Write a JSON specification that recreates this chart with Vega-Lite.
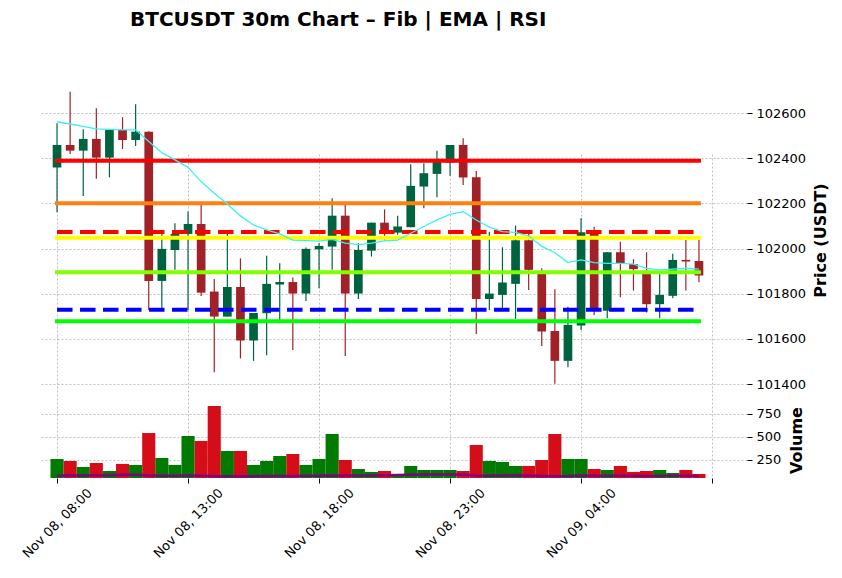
{
  "$schema": "https://vega.github.io/schema/vega-lite/v6.json",
  "autosize": "none",
  "width": 707,
  "height": 403,
  "padding": {"left": 40, "top": 75, "right": 95, "bottom": 100},
  "background": "white",
  "title": {"text": "BTCUSDT 30m Chart – Fib | EMA | RSI", "anchor": "start", "frame": "group", "dx": 90, "offset": 45, "font": "DejaVu Sans", "fontSize": 20, "fontWeight": "bold", "color": "black"},
  "config": {
    "view": {"stroke": null},
    "font": "DejaVu Sans",
    "scale": {"continuousPadding": 0},
    "axis": {"labelFont": "DejaVu Sans", "titleFont": "DejaVu Sans", "labelColor": "#000", "titleColor": "#000", "tickColor": "#000", "domain": false, "gridColor": "#b0b0b0", "gridDash": [2, 2], "gridWidth": 0.8, "tickSize": 5, "tickWidth": 1, "labelFontSize": 13}
  },
  "datasets": {
    "candles": [
      {"t": "2025-11-08T08:00", "o": 102359, "h": 102555, "l": 102161, "c": 102459, "v": 261, "ema": 102562, "rsi": 78},
      {"t": "2025-11-08T08:30", "o": 102459, "h": 102695, "l": 102419, "c": 102434, "v": 239, "ema": 102552, "rsi": 80},
      {"t": "2025-11-08T09:00", "o": 102434, "h": 102529, "l": 102233, "c": 102486, "v": 174, "ema": 102541, "rsi": 82},
      {"t": "2025-11-08T09:30", "o": 102486, "h": 102622, "l": 102309, "c": 102403, "v": 217, "ema": 102530, "rsi": 83},
      {"t": "2025-11-08T10:00", "o": 102403, "h": 102528, "l": 102316, "c": 102526, "v": 130, "ema": 102528, "rsi": 84},
      {"t": "2025-11-08T10:30", "o": 102526, "h": 102582, "l": 102441, "c": 102481, "v": 207, "ema": 102526, "rsi": 88},
      {"t": "2025-11-08T11:00", "o": 102481, "h": 102639, "l": 102455, "c": 102518, "v": 196, "ema": 102526, "rsi": 90},
      {"t": "2025-11-08T11:30", "o": 102518, "h": 102520, "l": 101728, "c": 101857, "v": 543, "ema": 102474, "rsi": 80},
      {"t": "2025-11-08T12:00", "o": 101857, "h": 102065, "l": 101728, "c": 101999, "v": 272, "ema": 102425, "rsi": 78},
      {"t": "2025-11-08T12:30", "o": 101994, "h": 102112, "l": 101906, "c": 102065, "v": 196, "ema": 102393, "rsi": 79},
      {"t": "2025-11-08T13:00", "o": 102065, "h": 102164, "l": 101728, "c": 102109, "v": 511, "ema": 102360, "rsi": 80},
      {"t": "2025-11-08T13:30", "o": 102109, "h": 102193, "l": 101790, "c": 101805, "v": 457, "ema": 102297, "rsi": 78},
      {"t": "2025-11-08T14:00", "o": 101810, "h": 101866, "l": 101452, "c": 101699, "v": 837, "ema": 102245, "rsi": 74},
      {"t": "2025-11-08T14:30", "o": 101699, "h": 102065, "l": 101699, "c": 101830, "v": 348, "ema": 102198, "rsi": 74},
      {"t": "2025-11-08T15:00", "o": 101830, "h": 101957, "l": 101514, "c": 101593, "v": 348, "ema": 102145, "rsi": 73},
      {"t": "2025-11-08T15:30", "o": 101593, "h": 101715, "l": 101503, "c": 101715, "v": 196, "ema": 102105, "rsi": 74},
      {"t": "2025-11-08T16:00", "o": 101714, "h": 101968, "l": 101528, "c": 101844, "v": 239, "ema": 102083, "rsi": 76},
      {"t": "2025-11-08T16:30", "o": 101841, "h": 101935, "l": 101669, "c": 101852, "v": 293, "ema": 102065, "rsi": 77},
      {"t": "2025-11-08T17:00", "o": 101852, "h": 101872, "l": 101551, "c": 101801, "v": 315, "ema": 102038, "rsi": 76},
      {"t": "2025-11-08T17:30", "o": 101801, "h": 102005, "l": 101768, "c": 101999, "v": 196, "ema": 102035, "rsi": 78},
      {"t": "2025-11-08T18:00", "o": 101997, "h": 102024, "l": 101824, "c": 102012, "v": 261, "ema": 102033, "rsi": 79},
      {"t": "2025-11-08T18:30", "o": 102009, "h": 102223, "l": 101906, "c": 102146, "v": 533, "ema": 102041, "rsi": 82},
      {"t": "2025-11-08T19:00", "o": 102146, "h": 102193, "l": 101525, "c": 101801, "v": 250, "ema": 102024, "rsi": 78},
      {"t": "2025-11-08T19:30", "o": 101801, "h": 102024, "l": 101777, "c": 101994, "v": 152, "ema": 102018, "rsi": 80},
      {"t": "2025-11-08T20:00", "o": 101991, "h": 102115, "l": 101965, "c": 102115, "v": 120, "ema": 102024, "rsi": 82},
      {"t": "2025-11-08T20:30", "o": 102115, "h": 102174, "l": 102036, "c": 102071, "v": 130, "ema": 102034, "rsi": 83},
      {"t": "2025-11-08T21:00", "o": 102071, "h": 102146, "l": 102061, "c": 102098, "v": 85, "ema": 102038, "rsi": 86},
      {"t": "2025-11-08T21:30", "o": 102095, "h": 102374, "l": 102095, "c": 102278, "v": 185, "ema": 102068, "rsi": 90},
      {"t": "2025-11-08T22:00", "o": 102275, "h": 102378, "l": 102179, "c": 102334, "v": 141, "ema": 102098, "rsi": 92},
      {"t": "2025-11-08T22:30", "o": 102331, "h": 102433, "l": 102227, "c": 102385, "v": 141, "ema": 102127, "rsi": 92},
      {"t": "2025-11-08T23:00", "o": 102381, "h": 102459, "l": 102323, "c": 102459, "v": 141, "ema": 102152, "rsi": 93},
      {"t": "2025-11-08T23:30", "o": 102459, "h": 102489, "l": 102282, "c": 102315, "v": 130, "ema": 102164, "rsi": 90},
      {"t": "2025-11-09T00:00", "o": 102316, "h": 102344, "l": 101622, "c": 101777, "v": 413, "ema": 102127, "rsi": 80},
      {"t": "2025-11-09T00:30", "o": 101777, "h": 102075, "l": 101728, "c": 101801, "v": 239, "ema": 102095, "rsi": 79},
      {"t": "2025-11-09T01:00", "o": 101795, "h": 102006, "l": 101728, "c": 101850, "v": 228, "ema": 102075, "rsi": 80},
      {"t": "2025-11-09T01:30", "o": 101844, "h": 102102, "l": 101689, "c": 102037, "v": 185, "ema": 102072, "rsi": 82},
      {"t": "2025-11-09T02:00", "o": 102037, "h": 102068, "l": 101817, "c": 101906, "v": 185, "ema": 102056, "rsi": 80},
      {"t": "2025-11-09T02:30", "o": 101898, "h": 101913, "l": 101569, "c": 101633, "v": 250, "ema": 102010, "rsi": 76},
      {"t": "2025-11-09T03:00", "o": 101635, "h": 101820, "l": 101401, "c": 101503, "v": 533, "ema": 101982, "rsi": 74},
      {"t": "2025-11-09T03:30", "o": 101503, "h": 101743, "l": 101475, "c": 101662, "v": 261, "ema": 101938, "rsi": 75},
      {"t": "2025-11-09T04:00", "o": 101659, "h": 102134, "l": 101640, "c": 102072, "v": 261, "ema": 101950, "rsi": 80},
      {"t": "2025-11-09T04:30", "o": 102080, "h": 102097, "l": 101706, "c": 101728, "v": 152, "ema": 101938, "rsi": 78},
      {"t": "2025-11-09T05:00", "o": 101725, "h": 101984, "l": 101692, "c": 101984, "v": 141, "ema": 101935, "rsi": 79},
      {"t": "2025-11-09T05:30", "o": 101984, "h": 102031, "l": 101785, "c": 101932, "v": 185, "ema": 101935, "rsi": 78},
      {"t": "2025-11-09T06:00", "o": 101932, "h": 101953, "l": 101814, "c": 101909, "v": 120, "ema": 101931, "rsi": 78},
      {"t": "2025-11-09T06:30", "o": 101888, "h": 101984, "l": 101717, "c": 101754, "v": 130, "ema": 101913, "rsi": 76},
      {"t": "2025-11-09T07:00", "o": 101754, "h": 101888, "l": 101692, "c": 101795, "v": 141, "ema": 101906, "rsi": 77},
      {"t": "2025-11-09T07:30", "o": 101791, "h": 101977, "l": 101780, "c": 101950, "v": 109, "ema": 101909, "rsi": 78},
      {"t": "2025-11-09T08:00", "o": 101950, "h": 102039, "l": 101814, "c": 101943, "v": 141, "ema": 101913, "rsi": 78},
      {"t": "2025-11-09T08:30", "o": 101945, "h": 102039, "l": 101851, "c": 101881, "v": 98, "ema": 101909, "rsi": 77}
    ],
    "levels": [
      {"label": "23.6%", "price": 102389.6, "kind": "fib", "start": "2025-11-08T08:00", "end": "2025-11-09T08:30"},
      {"label": "38.2%", "price": 102200.7, "kind": "fib", "start": "2025-11-08T08:00", "end": "2025-11-09T08:30"},
      {"label": "50%", "price": 102048, "kind": "fib", "start": "2025-11-08T08:00", "end": "2025-11-09T08:30"},
      {"label": "61.8%", "price": 101895.3, "kind": "fib", "start": "2025-11-08T08:00", "end": "2025-11-09T08:30"},
      {"label": "78.6%", "price": 101677.9, "kind": "fib", "start": "2025-11-08T08:00", "end": "2025-11-09T08:30"},
      {"label": "Resistance", "price": 102074, "kind": "level", "start": "2025-11-08T08:00", "end": "2025-11-09T08:30"},
      {"label": "Support", "price": 101729, "kind": "level", "start": "2025-11-08T08:00", "end": "2025-11-09T08:30"}
    ]
  },
  "resolve": {"scale": {"y": "independent"}, "axis": {"y": "independent"}},
  "layer": [
    {
      "data": {"name": "candles"},
      "mark": {"type": "rule", "strokeWidth": 1.2},
      "encoding": {
        "x": {"field": "t", "type": "temporal", "title": null,
          "scale": {"domain": [{"year": 2025, "month": 11, "date": 8, "hours": 7, "minutes": 21}, {"year": 2025, "month": 11, "date": 9, "hours": 10, "minutes": 20}], "nice": false, "padding": 0},
          "axis": {"values": [
            {"year": 2025, "month": 11, "date": 8, "hours": 8},
            {"year": 2025, "month": 11, "date": 8, "hours": 13},
            {"year": 2025, "month": 11, "date": 8, "hours": 18},
            {"year": 2025, "month": 11, "date": 8, "hours": 23},
            {"year": 2025, "month": 11, "date": 9, "hours": 4},
            {"year": 2025, "month": 11, "date": 9, "hours": 9}],
            "format": "%b %d, %H:%M",
            "labelExpr": "datum.index >= 1 ? '' : datum.label",
            "grid": true, "labelAngle": -45, "labelAlign": "center", "labelBaseline": "middle", "labelPadding": 40, "labelFlush": false, "labelOverlap": false}},
        "y": {"field": "l", "type": "quantitative", "title": "Price (USDT)",
          "scale": {"domain": [101334, 102769], "range": [324, 0], "zero": false, "nice": false},
          "axis": {"orient": "right", "values": [101400, 101600, 101800, 102000, 102200, 102400, 102600], "format": "d", "grid": true, "labelPadding": 4,
            "titleFontSize": 16, "titleFontWeight": "bold", "titleAngle": 270, "titleX": 73, "titleY": 165, "titleAlign": "center", "titleBaseline": "middle"}},
        "y2": {"field": "h"},
        "color": {"condition": {"test": "datum.c >= datum.o", "value": "#006340"}, "value": "#a02128"}
      }
    },
    {
      "data": {"name": "candles"},
      "mark": {"type": "bar", "width": 8.7},
      "encoding": {
        "x": {"field": "t", "type": "temporal", "title": null},
        "y": {"field": "o", "type": "quantitative", "axis": null, "scale": {"domain": [101334, 102769], "range": [324, 0], "zero": false, "nice": false}},
        "y2": {"field": "c"},
        "color": {"condition": {"test": "datum.c >= datum.o", "value": "#006340"}, "value": "#a02128"}
      }
    },
    {
      "data": {"name": "levels"},
      "transform": [{"filter": "datum.kind == 'fib'"}],
      "mark": {"type": "rule", "strokeWidth": 4, "strokeCap": "square"},
      "encoding": {
        "x": {"field": "start", "type": "temporal", "title": null},
        "x2": {"field": "end"},
        "y": {"field": "price", "type": "quantitative", "axis": null, "scale": {"domain": [101334, 102769], "range": [324, 0], "zero": false, "nice": false}},
        "color": {"field": "label", "type": "nominal", "legend": null,
          "scale": {"domain": ["23.6%", "38.2%", "50%", "61.8%", "78.6%", "Resistance", "Support"], "range": ["#ff0000", "#ff8010", "#ffff00", "#7fff00", "#00ff00", "#ff0000", "#0000ff"]}}
      }
    },
    {
      "data": {"name": "levels"},
      "transform": [{"filter": "datum.kind == 'level'"}],
      "mark": {"type": "rule", "strokeWidth": 4, "strokeDash": [15.5, 7.5]},
      "encoding": {
        "x": {"field": "start", "type": "temporal", "title": null},
        "x2": {"field": "end"},
        "y": {"field": "price", "type": "quantitative", "axis": null, "scale": {"domain": [101334, 102769], "range": [324, 0], "zero": false, "nice": false}},
        "color": {"field": "label", "type": "nominal", "legend": null}
      }
    },
    {
      "data": {"name": "candles"},
      "mark": {"type": "line", "stroke": "#3af2f2", "strokeWidth": 1.3},
      "encoding": {
        "x": {"field": "t", "type": "temporal", "title": null},
        "y": {"field": "ema", "type": "quantitative", "axis": null, "scale": {"domain": [101334, 102769], "range": [324, 0], "zero": false, "nice": false}}
      }
    },
    {
      "data": {"name": "candles"},
      "mark": {"type": "bar", "width": 13.1, "clip": true},
      "encoding": {
        "x": {"field": "t", "type": "temporal", "title": null},
        "y": {"field": "v", "type": "quantitative", "title": "Volume",
          "scale": {"domain": [54, 913], "range": [403, 324], "zero": false, "nice": false},
          "axis": {"orient": "right", "values": [250, 500, 750], "grid": true, "labelPadding": 4,
            "titleFontSize": 16, "titleFontWeight": "bold", "titleAngle": 270, "titleX": 49, "titleY": 365, "titleAlign": "center", "titleBaseline": "middle"}},
        "color": {"condition": {"test": "datum.c >= datum.o", "value": "#007a00"}, "value": "#d50d18"}
      }
    },
    {
      "data": {"name": "candles"},
      "mark": {"type": "line", "stroke": "#800080", "strokeWidth": 2.5, "clip": true},
      "encoding": {
        "x": {"field": "t", "type": "temporal", "title": null},
        "y": {"field": "rsi", "type": "quantitative", "axis": null, "scale": {"domain": [54, 913], "range": [403, 324], "zero": false, "nice": false}}
      }
    }
  ]
}
